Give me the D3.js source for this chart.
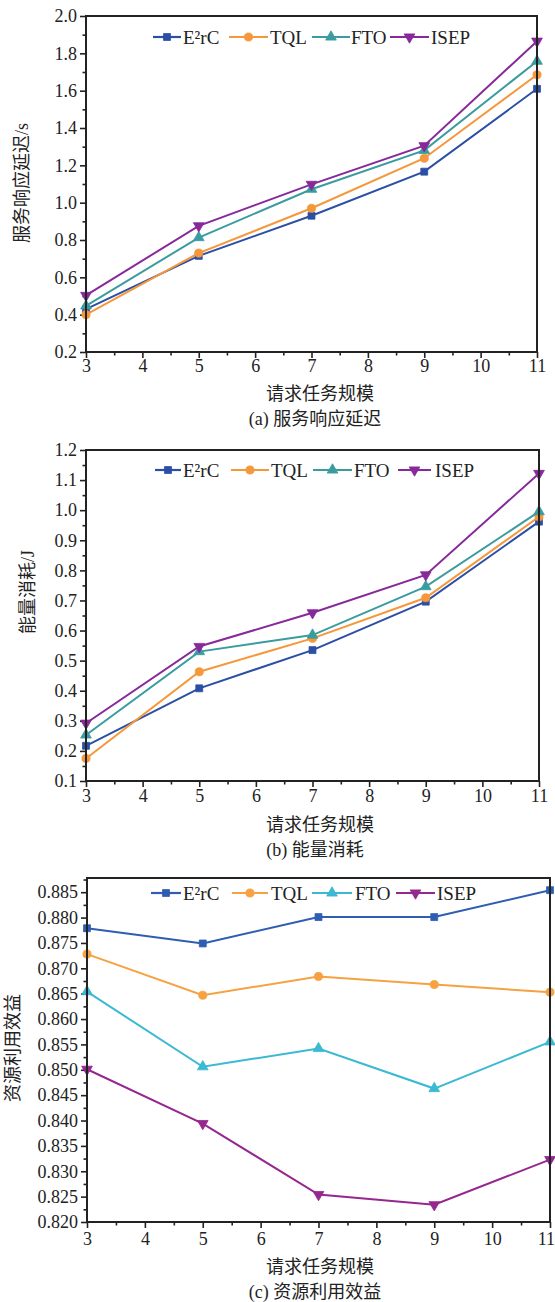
<!DOCTYPE html>
<html><head><meta charset="utf-8">
<script src="https://cdn.jsdelivr.net/npm/d3@7"></script>
<style>
html,body{margin:0;padding:0;background:#fff;}
svg text{font-family:"Liberation Serif","Noto Sans CJK SC",serif;fill:#222;}
</style></head>
<body><svg id="c" width="555" height="1302"></svg>
<script>
// ---------- data ----------
const taskScale = [3, 5, 7, 9, 11];
const seriesNames = ["E²rC", "TQL", "FTO", "ISEP"];
const xTicks = [3, 4, 5, 6, 7, 8, 9, 10, 11];

// (a) service response delay (s)
const delayE2rC = [0.43, 0.715, 0.93, 1.166, 1.61];
const delayTQL  = [0.40, 0.73, 0.97, 1.238, 1.685];
const delayFTO  = [0.447, 0.813, 1.072, 1.28, 1.758];
const delayISEP = [0.503, 0.876, 1.098, 1.305, 1.865];
const delayTicks = [0.2, 0.4, 0.6, 0.8, 1.0, 1.2, 1.4, 1.6, 1.8, 2.0];

// (b) energy consumption (J)
const energyE2rC = [0.217, 0.408, 0.535, 0.696, 0.962];
const energyTQL  = [0.175, 0.463, 0.574, 0.709, 0.978];
const energyFTO  = [0.253, 0.530, 0.585, 0.746, 0.995];
const energyISEP = [0.292, 0.547, 0.659, 0.785, 1.122];
const energyTicks = [0.1, 0.2, 0.3, 0.4, 0.5, 0.6, 0.7, 0.8, 0.9, 1.0, 1.1, 1.2];

// (c) resource utilization benefit
const benefitE2rC = [0.8779, 0.8749, 0.8801, 0.8801, 0.8854];
const benefitTQL  = [0.8728, 0.8647, 0.8684, 0.8668, 0.8653];
const benefitFTO  = [0.8654, 0.8506, 0.8542, 0.8463, 0.8555];
const benefitISEP = [0.8501, 0.8394, 0.8254, 0.8234, 0.8323];
const benefitTicks = [0.820, 0.825, 0.830, 0.835, 0.840, 0.845, 0.850, 0.855, 0.860, 0.865, 0.870, 0.875, 0.880, 0.885];

const xLabel = "请求任务规模";

// ---------- layout ----------
const panels = [
  {series:[delayE2rC,delayTQL,delayFTO,delayISEP], ticks:delayTicks, fmt:d3.format(".1f"),
   domain:[0.2,2.0], left:86, right:537, top:16, bottom:352,
   colors:["#2b4fa4","#f5973b","#3a9c9f","#87299a"],
   ylabel:"服务响应延迟/s", ylx:22, yly:183, caption:"(a) 服务响应延迟",
   tickY:372, labY:400, capY:425,
   legY:37, legLines:[[153,181],[229,268],[312,350],[390,429]], legText:[183,270,351,431]},
  {series:[energyE2rC,energyTQL,energyFTO,energyISEP], ticks:energyTicks, fmt:d3.format(".1f"),
   domain:[0.1,1.2], left:86, right:539, top:450, bottom:781,
   colors:["#2b4fa4","#f5973b","#3a9c9f","#87299a"],
   ylabel:"能量消耗/J", ylx:28, yly:592, caption:"(b) 能量消耗",
   tickY:802, labY:831, capY:856,
   legY:470, legLines:[[155,181],[231,269],[313,352],[398,431]], legText:[183,271,354,435]},
  {series:[benefitE2rC,benefitTQL,benefitFTO,benefitISEP], ticks:benefitTicks, fmt:d3.format(".3f"),
   domain:[0.820,0.8878], left:87, right:550, top:878, bottom:1222,
   colors:["#2f5db2","#f6a142","#3bb9d3","#95278f"],
   ylabel:"资源利用效益", ylx:13, yly:1048, caption:"(c) 资源利用效益",
   tickY:1245, labY:1273, capY:1298, lastTickEnd:true,
   legY:893, legLines:[[151,181],[232,268],[312,352],[396,435]], legText:[183,271,355,437]}
];

const symbols = [d3.symbolSquare, d3.symbolCircle, d3.symbolTriangle, d3.symbolTriangle];
const symRot = [0, 0, 0, 180];
const symSize = [48, 52, 50, 50];
const serif = '"Liberation Serif","Times New Roman",serif';

const svg = d3.select("#c");

function drawMarker(g, i, color, cx, cy) {
  g.append("path")
    .attr("d", d3.symbol().type(symbols[i]).size(symSize[i])())
    .attr("transform", `translate(${cx},${cy}) rotate(${symRot[i]})`)
    .attr("fill", color).attr("stroke", color).attr("stroke-width", 0.8);
}

panels.forEach(p => {
  const g = svg.append("g");
  const x = d3.scaleLinear().domain([3, 11]).range([p.left, p.right]);
  const y = d3.scaleLinear().domain(p.domain).range([p.bottom, p.top]);

  const step = p.ticks[1] - p.ticks[0];
  const yMinor = p.ticks.map(t => t + step / 2).filter(t => t < p.domain[1]);
  const xMinor = xTicks.slice(0, -1).map(t => t + 0.5);

  const yAx = g.append("g").attr("transform", `translate(${p.left},0)`)
    .call(d3.axisLeft(y).tickValues(p.ticks).tickFormat(p.fmt).tickSize(6).tickPadding(3));
  const yAxm = g.append("g").attr("transform", `translate(${p.left},0)`)
    .call(d3.axisLeft(y).tickValues(yMinor).tickFormat("").tickSize(3.5));
  const xAx = g.append("g").attr("transform", `translate(0,${p.bottom})`)
    .call(d3.axisBottom(x).tickValues(xTicks).tickFormat(d3.format("d")).tickSize(6).tickPadding(4));
  const xAxm = g.append("g").attr("transform", `translate(0,${p.bottom})`)
    .call(d3.axisBottom(x).tickValues(xMinor).tickFormat("").tickSize(3.5));
  [yAx, yAxm, xAx, xAxm].forEach(a => {
    a.attr("font-family", null);
    a.select(".domain").remove();
    a.selectAll(".tick line").attr("stroke", "#222").attr("stroke-width", 1.6);
  });
  yAx.selectAll(".tick text").attr("font-size", 18).attr("fill", "#222")
    .style("font-family", serif);
  xAx.selectAll(".tick text").attr("font-size", 18).attr("fill", "#222")
    .style("font-family", serif).attr("dy", null).attr("y", null)
    .attr("transform", `translate(0,${p.tickY - p.bottom})`);
  if (p.lastTickEnd) {
    xAx.selectAll(".tick text").filter(d => d === 11).attr("text-anchor", "end")
      .attr("transform", `translate(${555 - p.right - 0.5},${p.tickY - p.bottom})`);
  }

  p.series.forEach((vals, i) => {
    const pts = taskScale.map((t, k) => [t, vals[k]]);
    g.append("path").datum(pts)
      .attr("d", d3.line().x(d => x(d[0])).y(d => y(d[1])))
      .attr("fill", "none").attr("stroke", p.colors[i]).attr("stroke-width", 2);
    pts.forEach(d => drawMarker(g, i, p.colors[i], x(d[0]), y(d[1])));
  });

  g.append("rect").attr("x", p.left).attr("y", p.top)
    .attr("width", p.right - p.left).attr("height", p.bottom - p.top)
    .attr("fill", "none").attr("stroke", "#222").attr("stroke-width", 2);

  seriesNames.forEach((name, i) => {
    const [a, b] = p.legLines[i];
    g.append("line").attr("x1", a).attr("x2", b).attr("y1", p.legY).attr("y2", p.legY)
      .attr("stroke", p.colors[i]).attr("stroke-width", 2.2);
    drawMarker(g, i, p.colors[i], (a + b) / 2, p.legY);
    g.append("text").attr("x", p.legText[i]).attr("y", p.legY + 6.5)
      .attr("font-size", 19).text(name);
  });

  g.append("text").attr("transform", `translate(${p.ylx},${p.yly}) rotate(-90)`)
    .attr("text-anchor", "middle").attr("dy", "0.35em").attr("font-size", 18).text(p.ylabel);
  g.append("text").attr("x", 320).attr("y", p.labY).attr("text-anchor", "middle")
    .attr("font-size", 18).text(xLabel);
  g.append("text").attr("x", 315).attr("y", p.capY).attr("text-anchor", "middle")
    .attr("font-size", 18).text(p.caption);
});
</script></body></html>
